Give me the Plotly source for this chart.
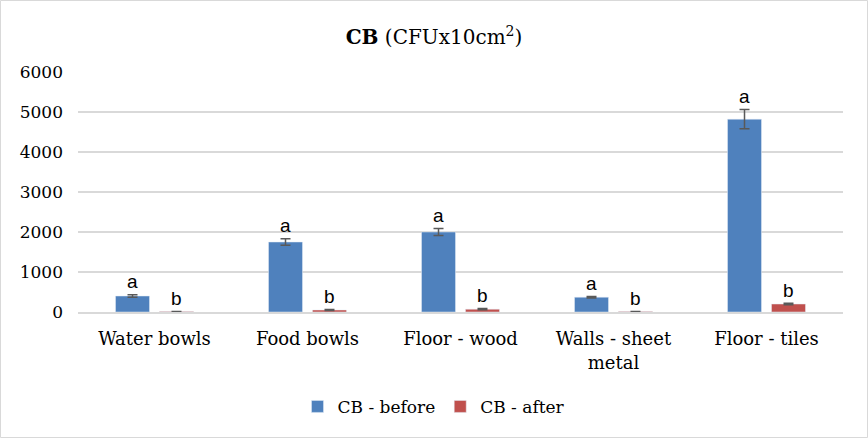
import plotly.graph_objects as go

categories = ["Water bowls", "Food bowls", "Floor - wood", "Walls - sheet<br>metal", "Floor - tiles"]
before_vals = [400, 1750, 2000, 370, 4820]
before_err = [30, 80, 90, 20, 240]
after_vals = [10, 50, 70, 10, 200]
after_err = [5, 10, 15, 5, 20]
before_letters = ["a", "a", "a", "a", "a"]
after_letters = ["b", "b", "b", "b", "b"]
y_ticks = [0, 1000, 2000, 3000, 4000, 5000, 6000]

serif = "DejaVu Serif"
sans = "Liberation Sans"
blue = "#4f81bd"
red = "#c0504d"
errc = "#595959"

fig = go.Figure()
fig.add_trace(go.Bar(
    name="CB - before", x=categories, y=before_vals, marker_color=blue,
    error_y=dict(type="data", array=before_err, color=errc, thickness=1.5, width=5)))
fig.add_trace(go.Bar(
    name="CB - after", x=categories, y=after_vals, marker_color=red,
    error_y=dict(type="data", array=after_err, color=errc, thickness=1.5, width=5)))

annotations = []
for i, c in enumerate(categories):
    annotations.append(dict(x=c, y=before_vals[i] + before_err[i], xref="x", yref="y",
                            text=before_letters[i], showarrow=False, xshift=-22, yshift=13,
                            font=dict(family=sans, size=19, color="#000000")))
    annotations.append(dict(x=c, y=after_vals[i] + after_err[i], xref="x", yref="y",
                            text=after_letters[i], showarrow=False, xshift=22, yshift=13,
                            font=dict(family=sans, size=19, color="#000000")))

W, H = 868, 438
l, r, t, b = 78, 25, 72, 126
pw, ph = W - l - r, H - t - b

fig.update_layout(
    width=W, height=H,
    margin=dict(l=l, r=r, t=t, b=b),
    paper_bgcolor="white", plot_bgcolor="white",
    title=dict(text="<b>CB</b> (CFUx10cm<sup>2</sup>)", x=0.5, xref="container", xanchor="center",
               y=0.915, yref="container", yanchor="middle",
               font=dict(family=serif, size=20, color="#000000")),
    barmode="group", bargap=0.425, bargroupgap=0.227,
    font=dict(family=serif, size=17, color="#000000"),
    xaxis=dict(showline=True, linecolor="#d9d9d9", linewidth=1.5, ticks="",
               ticklabelstandoff=10,
               tickfont=dict(family=serif, size=18, color="#000000")),
    yaxis=dict(range=[0, 6000], tickvals=y_ticks, showgrid=True, gridcolor="#d9d9d9",
               gridwidth=1.5, zeroline=False, showline=False, ticks="",
               ticklabelstandoff=14,
               tickfont=dict(family=serif, size=17, color="#000000")),
    legend=dict(orientation="h", xref="container", x=0.5, xanchor="center",
                yref="container", y=0.03, yanchor="bottom",
                font=dict(family=serif, size=17, color="#000000"),
                itemwidth=30, traceorder="normal"),
    annotations=annotations,
    shapes=[dict(type="rect", xref="paper", yref="paper",
                 x0=-(l - 0.5) / pw, x1=1 + (r - 0.5) / pw,
                 y0=-(b - 0.5) / ph, y1=1 + (t - 0.5) / ph,
                 line=dict(color="#d9d9d9", width=1), layer="below")],
)

fig.write_html("out.html", config={"displayModeBar": False},
               post_script="document.body.style.margin='0';")
